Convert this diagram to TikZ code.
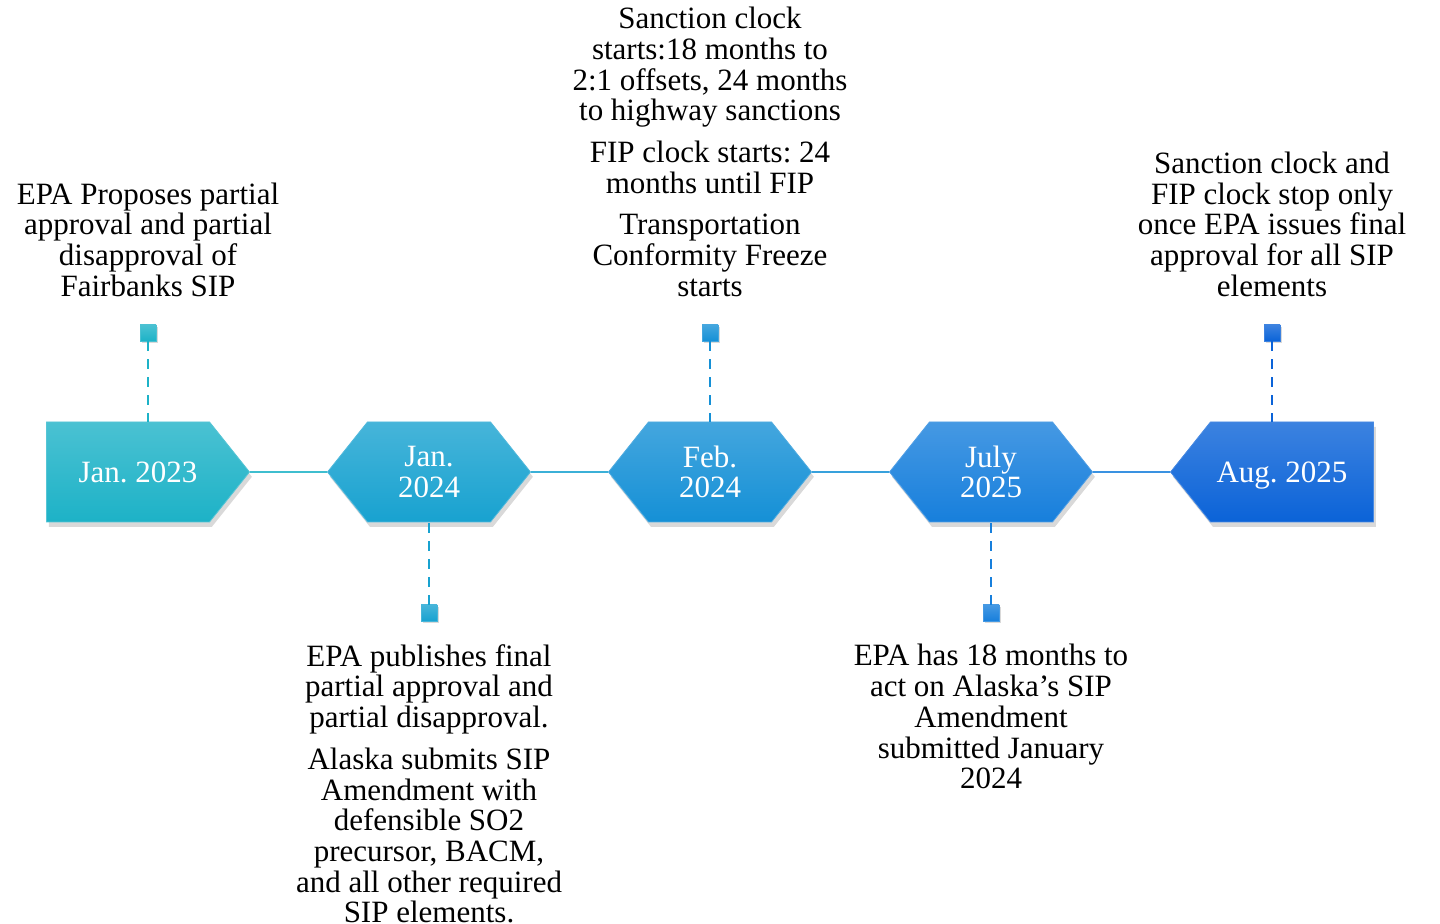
\documentclass[tikz,border=0pt]{standalone}
\usepackage{fontspec}
\setmainfont{Liberation Serif}
\usetikzlibrary{shapes.symbols, shadows, positioning}

\definecolor{cA}{HTML}{1DB2C7}
\definecolor{cB}{HTML}{18A2D0}
\definecolor{cC}{HTML}{1590D6}
\definecolor{cD}{HTML}{177FDC}
\definecolor{cE}{HTML}{0B63D8}

\newcommand\tlfont{\fontsize{15.5}{15.35}\selectfont\frenchspacing}

\tikzset{
  datebox/.style={signal, signal pointer angle=102.7, minimum height=50pt,
    minimum width=101.5pt, inner sep=0pt, align=center, text=white,
    font=\tlfont, top color=#1!80!white, bottom color=#1, draw=#1!75!white,
    line width=0.4pt,
    drop shadow={shadow xshift=1.2pt, shadow yshift=-2.4pt, opacity=0.3}},
  pin/.style={rectangle, minimum size=8pt, inner sep=0pt,
    top color=#1!80!white, bottom color=#1, draw=#1!80!white, line width=0.3pt,
    drop shadow={shadow xshift=0.8pt, shadow yshift=-1.2pt, opacity=0.3}},
  leader/.style={draw=#1, line width=1pt, dash pattern=on 5pt off 4pt},
  link/.style={draw=#1!85!white, line width=0.6pt},
  note/.style={align=center, font=\tlfont, inner sep=0pt}
}

\begin{document}
\begin{tikzpicture}[x=0.5pt, y=-0.5pt]
  \useasboundingbox (0,0) rectangle (1440,924);

  % timeline boxes
  \node[datebox=cA, signal to=east] at (128,472) (d1){\hspace*{10pt}Jan. 2023};
  \node[datebox=cB, signal to=east and west] at (429,472) (d2){Jan.\\2024};
  \node[datebox=cC, signal to=east and west] at (710,472) (d3){Feb.\\2024};
  \node[datebox=cD, signal to=east and west] at (991,472) (d4){July\\2025};
  \node[datebox=cE, signal to=west] at (1292,472) (d5){\raisebox{0pt}[\height][0pt]{Aug. 2025}\hspace*{10pt}};

  \draw[link=cA] (d1.east) -- (d2.west);
  \draw[link=cB] (d2.east) -- (d3.west);
  \draw[link=cC] (d3.east) -- (d4.west);
  \draw[link=cD] (d4.east) -- (d5.west);

  % pins
  \node[pin=cA] at (148,333) (p1){};
  \node[pin=cB] at (429,613) (p2){};
  \node[pin=cC] at (710,333) (p3){};
  \node[pin=cD] at (991,613) (p4){};
  \node[pin=cE] at (1272,333) (p5){};

  \draw[leader=cA] (p1.south) -- (p1.south |- d1.north);
  \draw[leader=cB] (p2.north) -- (p2.north |- d2.south);
  \draw[leader=cC] (p3.south) -- (p3.south |- d3.north);
  \draw[leader=cD] (p4.north) -- (p4.north |- d4.south);
  \draw[leader=cE] (p5.south) -- (p5.south |- d5.north);

  % texts
  \node[note, anchor=south] at (148,297) (n1){EPA Proposes partial\\approval and partial\\disapproval of\\Fairbanks SIP};
  \node[note, anchor=north] at (429,644) (n2){EPA publishes final\\partial approval and\\partial disapproval.\\[5.5pt]Alaska submits SIP\\Amendment with\\defensible SO2\\precursor, BACM,\\and all other required\\SIP elements.};
  \node[note, anchor=south] at (710,297) (n3){Sanction clock\\starts:18 months to\\2:1 offsets, 24 months\\to highway sanctions\\[5.5pt]FIP clock starts: 24\\months until FIP\\[5.5pt]Transportation\\Conformity Freeze\\starts};
  \node[note, anchor=north] at (991,644) (n4){EPA has 18 months to\\act on Alaska’s SIP\\Amendment\\submitted January\\2024};
  \node[note, anchor=south] at (1272,297) (n5){Sanction clock and\\FIP clock stop only\\once EPA issues final\\approval for all SIP\\elements};
\end{tikzpicture}
\end{document}
